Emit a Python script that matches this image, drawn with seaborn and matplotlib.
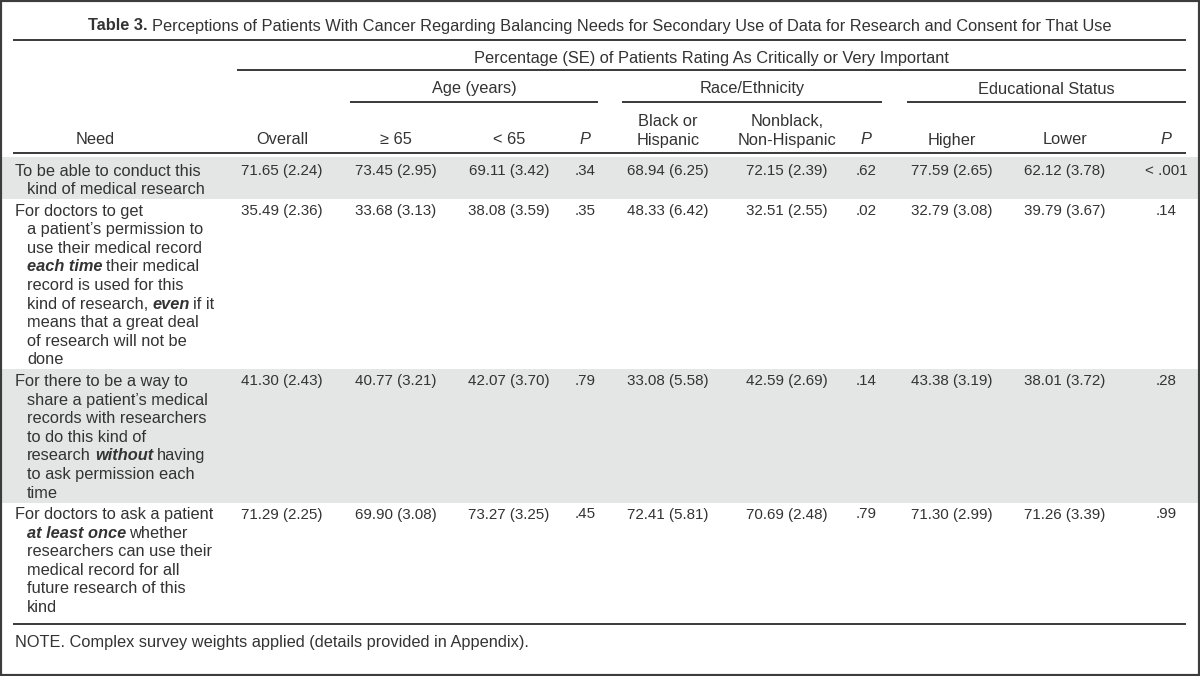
import re
import matplotlib
matplotlib.use("Agg")
import matplotlib.pyplot as plt
from matplotlib.patches import Rectangle
import seaborn as sns

# ---- data -------------------------------------------------------------
title = "#Table 3.# Perceptions of Patients With Cancer Regarding Balancing Needs for Secondary Use of Data for Research and Consent for That Use"
spanner = "Percentage (SE) of Patients Rating As Critically or Very Important"
groups = ["Age (years)", "Race/Ethnicity", "Educational Status"]
col_headers = [["Overall"], ["\u2265 65"], ["< 65"], ["_P_"],
               ["Black or", "Hispanic"], ["Nonblack,", "Non-Hispanic"], ["_P_"],
               ["Higher"], ["Lower"], ["_P_"]]

needs = [
    ["To be able to conduct this", "kind of medical research"],
    ["For doctors to get", "a patient\u2019s permission to", "use their medical record",
     "*each time* their medical", "record is used for this", "kind of research, *even* if it",
     "means that a great deal", "of research will not be", "done"],
    ["For there to be a way to", "share a patient\u2019s medical", "records with researchers",
     "to do this kind of", "research *without* having", "to ask permission each", "time"],
    ["For doctors to ask a patient", "*at least once* whether", "researchers can use their",
     "medical record for all", "future research of this", "kind"],
]

overall_pct = [71.65, 35.49, 41.30, 71.29]
overall_se = [2.24, 2.36, 2.43, 2.25]
age65_pct = [73.45, 33.68, 40.77, 69.90]
age65_se = [2.95, 3.13, 3.21, 3.08]
under65_pct = [69.11, 38.08, 42.07, 73.27]
under65_se = [3.42, 3.59, 3.70, 3.25]
age_p = [".34", ".35", ".79", ".45"]
black_pct = [68.94, 48.33, 33.08, 72.41]
black_se = [6.25, 6.42, 5.58, 5.81]
nonblack_pct = [72.15, 32.51, 42.59, 70.69]
nonblack_se = [2.39, 2.55, 2.69, 2.48]
race_p = [".62", ".02", ".14", ".79"]
higher_pct = [77.59, 32.79, 43.38, 71.30]
higher_se = [2.65, 3.08, 3.19, 2.99]
lower_pct = [62.12, 39.79, 38.01, 71.26]
lower_se = [3.78, 3.67, 3.72, 3.39]
edu_p = ["< .001", ".14", ".28", ".99"]

note = "NOTE. Complex survey weights applied (details provided in Appendix)."

# ---- layout -----------------------------------------------------------
W, H = 1200, 676
FS = 11.8
FS_NUM = 10.9
TXT = "#333333"
LINE = "#2a2a2a"
BAND = "#e4e5e5"
col_x = [282, 396, 509, 585, 668, 787, 866, 952, 1065, 1166]
group_spans = [(350, 598), (622, 882), (907, 1186)]
LEFT, RIGHT = 13, 1186
LINE_H = 18.6
ROW_GAP = 21.5
FIRST_Y = 171

sns.set_theme(style="white")
plt.rcParams["font.family"] = ["Liberation Sans", "DejaVu Sans"]

fig = plt.figure(figsize=(12, 6.76), dpi=100)
ax = fig.add_axes([0, 0, 1, 1])
ax.set_xlim(0, W)
ax.set_ylim(H, 0)
ax.axis("off")
renderer = fig.canvas.get_renderer()

STYLES = {"n": {}, "b": {"fontweight": "bold"},
          "bi": {"fontweight": "bold", "fontstyle": "italic"},
          "i": {"fontstyle": "italic"}}


def text_w(s, style, fs):
    if not s:
        return 0.0
    t = ax.text(0, 0, s, fontsize=fs, **STYLES[style])
    w = t.get_window_extent(renderer).width
    t.remove()
    return w


def parse(line):
    out = []
    for part in re.split(r"(\*[^*]+\*|#[^#]+#|_[^_]+_)", line):
        if not part:
            continue
        if part.startswith("*"):
            out.append((part[1:-1], "bi"))
        elif part.startswith("#"):
            out.append((part[1:-1], "b"))
        elif part.startswith("_"):
            out.append((part[1:-1], "i"))
        else:
            out.append((part, "n"))
    return out


def draw_rich(x, y, line, ha="left", fs=FS):
    segs = []
    for s, st in parse(line):
        sp = text_w("a a", st, fs) - text_w("aa", st, fs)
        core = s.strip(" ")
        lead = len(s) - len(s.lstrip(" "))
        trail = len(s) - len(s.rstrip(" "))
        w = text_w(core, st, fs)
        if st == "bi":
            w -= 1.5
        segs.append((core, st, lead * sp, w, trail * sp))
    total = sum(a + b + c for _, _, a, b, c in segs)
    cx = x - total / 2 if ha == "center" else x
    for core, st, a, b, c in segs:
        cx += a
        ax.text(cx, y, core, fontsize=fs, color=TXT, ha="left", va="center", **STYLES[st])
        cx += b + c


def hline(y, x0, x1, lw=1.3):
    ax.plot([x0, x1], [y, y], color=LINE, lw=lw, solid_capstyle="butt")


# title and header rules
draw_rich(600, 26, title, ha="center")
hline(40, LEFT, RIGHT)
draw_rich((237 + RIGHT) / 2, 58, spanner, ha="center")
hline(70, 237, RIGHT)
for g, (x0, x1) in zip(groups, group_spans):
    draw_rich((x0 + x1) / 2, 89, g, ha="center")
    hline(102, x0, x1)

draw_rich(95, 140, "Need", ha="center")
for x, hdr in zip(col_x, col_headers):
    for k, h in enumerate(hdr):
        y = 140 - (len(hdr) - 1 - k) * 18
        draw_rich(x, y, h, ha="center")
hline(153, LEFT, RIGHT)

# body rows
columns = [
    [f"{p:.2f} ({s:.2f})" for p, s in zip(overall_pct, overall_se)],
    [f"{p:.2f} ({s:.2f})" for p, s in zip(age65_pct, age65_se)],
    [f"{p:.2f} ({s:.2f})" for p, s in zip(under65_pct, under65_se)],
    age_p,
    [f"{p:.2f} ({s:.2f})" for p, s in zip(black_pct, black_se)],
    [f"{p:.2f} ({s:.2f})" for p, s in zip(nonblack_pct, nonblack_se)],
    race_p,
    [f"{p:.2f} ({s:.2f})" for p, s in zip(higher_pct, higher_se)],
    [f"{p:.2f} ({s:.2f})" for p, s in zip(lower_pct, lower_se)],
    edu_p,
]

y0 = FIRST_Y
top = 157
for i, lines in enumerate(needs):
    last = y0 + (len(lines) - 1) * LINE_H
    bottom = last + 9.5
    if i % 2 == 0:
        ax.axhspan(top, bottom, color=BAND, zorder=0, lw=0)
    for k, ln in enumerate(lines):
        draw_rich(15 if k == 0 else 27, y0 + k * LINE_H, ln)
    for x, col in zip(col_x, columns):
        draw_rich(x, y0, col[i], ha="center", fs=FS_NUM)
    top = bottom
    y0 = last + ROW_GAP

hline(624, LEFT, RIGHT)
draw_rich(15, 643, note)

fig.patches.append(Rectangle((0, 0), 1, 1, transform=fig.transFigure, fill=False,
                             ec="#3c3c3c", lw=3))

fig.savefig("out.png", dpi=100)
